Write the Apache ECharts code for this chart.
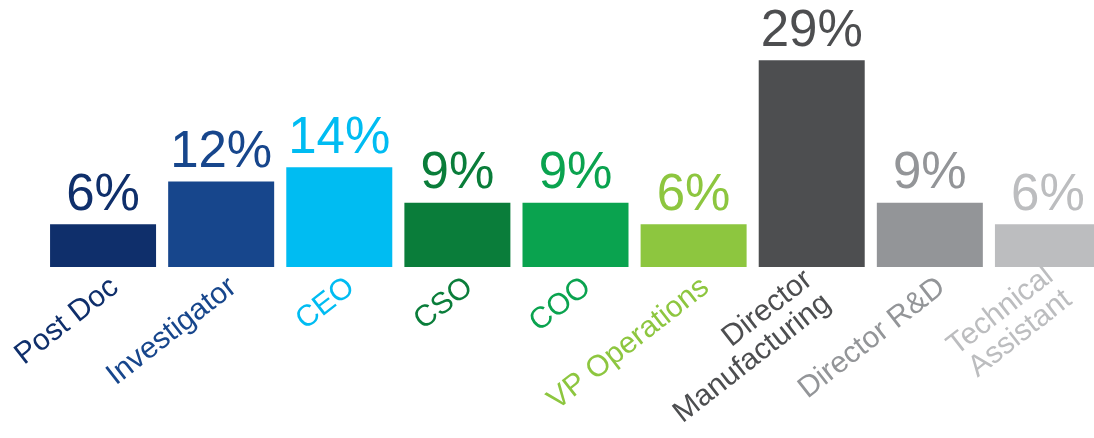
<!DOCTYPE html>
<html>
<head>
<meta charset="utf-8">
<script src="https://cdn.jsdelivr.net/npm/echarts@6/dist/echarts.min.js"></script>
<style>
html,body{margin:0;padding:0;background:#fff;}
#chart{width:1094px;height:438px;}
</style>
</head>
<body>
<div id="chart"></div>
<script>
var categories = ['Post Doc', 'Investigator', 'CEO', 'CSO', 'COO', 'VP Operations', 'Director\nManufacturing', 'Director R&D', 'Technical\nAssistant'];
var values = [6, 12, 14, 9, 9, 6, 29, 9, 6];
var colors = ['#0f2f6b', '#17468c', '#00bcf2', '#0a7d3a', '#0aa34f', '#8dc63f', '#4d4e50', '#939598', '#bcbdbf'];

var labelPads = {
  'Director\nManufacturing': [30, -8, 0, 0],
  'Technical\nAssistant': [26, -14, 0, 0]
};

var chart = echarts.init(document.getElementById('chart'));
var font = '"Liberation Sans", Arial, Helvetica, sans-serif';
chart.setOption({
  animation: false,
  grid: { left: 44, width: 1063, top: 53, bottom: 171, outerBoundsMode: 'none', containLabel: false },
  xAxis: {
    type: 'category',
    data: categories.map(function (c) {
      return labelPads[c] ? { value: c, textStyle: { padding: labelPads[c] } } : c;
    }),
    axisLine: { show: false },
    axisTick: { show: false },
    axisLabel: {
      interval: 0,
      rotate: 38,
      margin: 26,
      fontSize: 30,
      lineHeight: 30,
      fontFamily: font,
      align: 'right',
      padding: [0, -15, 0, 0],
      color: function (v, i) { return colors[i]; }
    }
  },
  yAxis: { type: 'value', min: 0, max: 30, show: false, splitLine: { show: false } },
  series: [{
    type: 'bar',
    barWidth: 106,
    data: values.map(function (v, i) {
      return { value: v, itemStyle: { color: colors[i] }, label: { color: colors[i] } };
    }),
    label: {
      show: true,
      position: 'top',
      distance: 3,
      fontSize: 51,
      fontFamily: font,
      formatter: '{c}%'
    }
  }]
});
</script>
</body>
</html>
